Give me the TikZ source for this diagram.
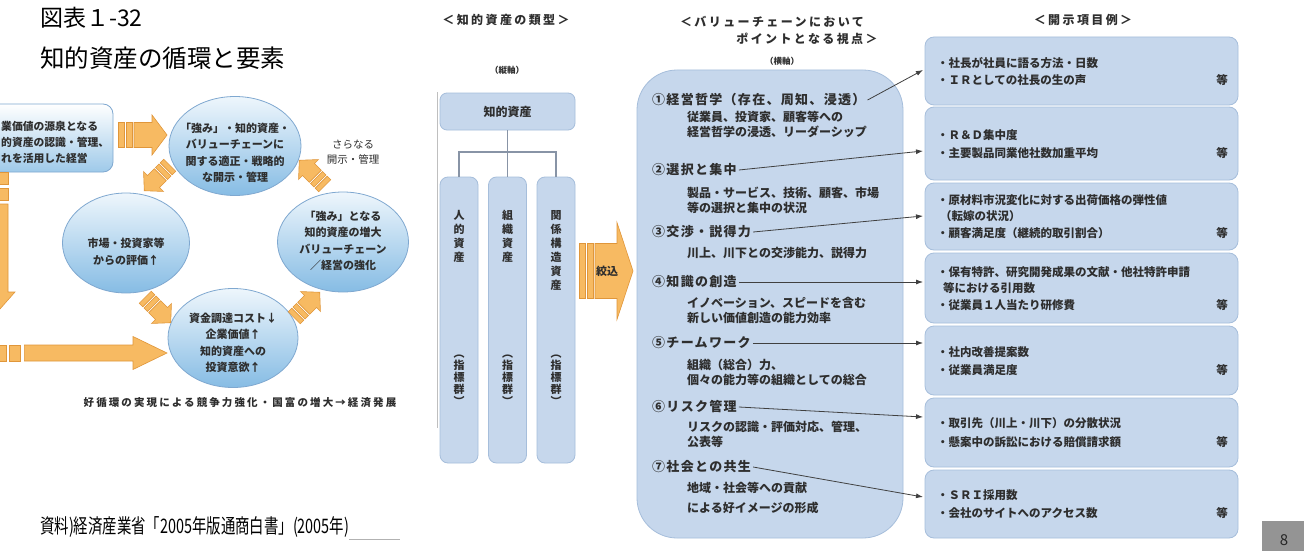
\documentclass[tikz,border=0pt]{standalone}
\usepackage{fontspec}
\setmainfont{Noto Sans CJK JP}
\newfontfamily\hdfont{Noto Sans CJK JP}[LetterSpace=20]
\newfontfamily\spfont{Noto Sans CJK JP}[LetterSpace=20]
\newfontfamily\hgfont{Noto Sans CJK JP}[LetterSpace=10]
\usetikzlibrary{shapes.geometric,arrows.meta,calc}

\definecolor{orfill}{HTML}{F7BA62}
\definecolor{orline}{HTML}{E0963A}
\definecolor{boxblue}{HTML}{C6D7EC}
\definecolor{boxline}{HTML}{A6BEDB}
\definecolor{elltop}{HTML}{EEF6FC}
\definecolor{ellbot}{HTML}{86BCE4}
\definecolor{ellline}{HTML}{7FA8D0}
\definecolor{txt}{HTML}{2E2E2E}
\definecolor{connc}{HTML}{8894A6}

\newcommand{\orarr}[8]{%
\begin{scope}[shift={(#1,#2)},rotate=#3]
\pgfmathsetmacro{\qqa}{-#4/2}
\pgfmathsetmacro{\qqb}{-#4/2+#8}
\pgfmathsetmacro{\qqc}{-#4/2+#8+#8/3}
\pgfmathsetmacro{\qqd}{-#4/2+2*#8+#8/3}
\pgfmathsetmacro{\qqe}{-#4/2+2*#8+2*#8/3}
\pgfmathsetmacro{\qqf}{#4/2-#7}
\pgfmathsetmacro{\qqg}{#4/2}
\filldraw[orarrow] (\qqa,-#5) rectangle (\qqb,#5);
\filldraw[orarrow] (\qqc,-#5) rectangle (\qqd,#5);
\filldraw[orarrow] (\qqe,-#5) -- (\qqf,-#5) -- (\qqf,-#6) -- (\qqg,0) -- (\qqf,#6) -- (\qqf,#5) -- (\qqe,#5) -- cycle;
\end{scope}}

\begin{document}
\begin{tikzpicture}[x=1pt,y=-1pt,
  ell/.style={ellipse, draw=ellline, line width=0.8pt, top color=elltop, bottom color=ellbot, inner sep=0pt},
  etext/.style={align=center, text=txt, font=\bfseries\fontsize{11}{16.5}\selectfont, inner sep=0pt},
  orarrow/.style={fill=orfill, draw=orline, line width=0.6pt, line join=miter},
  tlbox/.style={draw=ellline, line width=0.8pt, top color=white, bottom color=ellbot!80, rounded corners=10pt, inner sep=0pt},
  mbox/.style={draw=boxline, fill=boxblue, line width=0.8pt, inner sep=0pt},
  hd/.style={text=txt, font=\hdfont\bfseries\fontsize{12}{14}\selectfont, inner sep=0pt},
  smalltx/.style={text=txt, font=\bfseries\fontsize{8.5}{10}\selectfont, inner sep=0pt},
  conn/.style={draw=connc, line width=1.6pt},
  vtext/.style={align=center, text=txt, font=\bfseries\fontsize{11}{14}\selectfont, inner sep=0pt, anchor=north},
  vtextb/.style={align=center, text=txt, font=\bfseries\fontsize{11}{12}\selectfont, inner sep=0pt, anchor=north},
  hdg/.style={anchor=west, text=txt, font=\hgfont\bfseries\fontsize{13}{15}\selectfont, inner sep=2pt},
  subtx/.style={anchor=west, align=left, text=txt, font=\bfseries\fontsize{12}{15}\selectfont, inner sep=0pt},
  rbox/.style={draw=boxline, fill=boxblue, line width=0.8pt, rounded corners=9pt, minimum width=313pt, inner sep=0pt},
  rtext/.style={anchor=west, align=left, text=txt, font=\bfseries\fontsize{11.5}{17.5}\selectfont, inner sep=0pt},
  etc/.style={text=txt, font=\bfseries\fontsize{11.5}{13}\selectfont, inner sep=0pt},
  ptr/.style={-{Latex[length=7pt,width=5pt]}, draw=black!75, line width=0.8pt}
]
\useasboundingbox (0,0) rectangle (1304,551);
\clip (0,0) rectangle (1304,551);
\fill[white] (0,0) rectangle (1304,551);

% titles
\node[anchor=west, font=\fontsize{23}{26}\selectfont, inner sep=0pt] (ttl1) at (40,18) {図表１-32};
\node[anchor=west, font=\fontsize{24.5}{28}\selectfont, inner sep=0pt] (ttl2) at (40,58) {知的資産の循環と要素};

% left panel border
\draw[black!25, line width=1pt] (437,92) -- (437,428);

% left cycle
\node[tlbox, minimum width=150pt, minimum height=68pt] (src) at (38,138) {};
\node[etext, anchor=west, align=left, font=\bfseries\fontsize{10.8}{16}\selectfont] (srct) at (1,142) {業価値の源泉となる\\的資産の認識・管理、\\れを活用した経営};

\orarr{142.5}{135}{0}{49}{12.5}{20}{15}{6}
\orarr{-8}{245}{-90}{146}{16}{23}{26}{12}
\orarr{81}{353}{0}{172}{8}{16.5}{34}{11}

\node[ell, minimum width=132pt, minimum height=99pt] (etop) at (235,146) {};
\node[etext] (etopt) at (235,153) {「強み」・知的資産・\\バリューチェーンに\\関する適正・戦略的\\な開示・管理};
\node[ell, minimum width=131pt, minimum height=100pt] (eright) at (343,242) {};
\node[etext] (erightt) at (343,241) {「強み」となる\\知的資産の増大\\バリューチェーン\\／経営の強化};
\node[ell, minimum width=127pt, minimum height=100pt] (eleft) at (126,243) {};
\node[etext] (eleftt) at (126,252) {市場・投資家等\\からの評価↑};
\node[ell, minimum width=130pt, minimum height=99pt] (ebot) at (233,338) {};
\node[etext] (ebott) at (233,343) {資金調達コスト↓\\企業価値↑\\知的資産への\\投資意欲↑};

\orarr{157}{178}{225}{36}{8.5}{14}{13}{5}
\orarr{312}{173}{135}{36}{8.5}{14}{13}{5}
\orarr{307}{305}{45}{36}{8.5}{14}{13}{5}
\orarr{158}{310}{-45}{36}{8.5}{14}{13}{5}

\node[align=center, text=txt, font=\fontsize{10.5}{15}\selectfont, inner sep=0pt] (more) at (353,152) {さらなる\\開示・管理};
\node[text=txt, font=\spfont\bfseries\fontsize{10.5}{12}\selectfont, inner sep=0pt] (cap) at (240,403) {好循環の実現による競争力強化・国富の増大→経済発展};

% middle: types of intellectual assets
\node[hd] (hdm) at (506,20) {＜知的資産の類型＞};
\node[smalltx] (vax) at (507,70) {（縦軸）};
\node[mbox, minimum width=135pt, minimum height=37pt, rounded corners=7pt, text=txt, font=\bfseries\fontsize{12}{14}\selectfont] (tb) at (507.5,111.5) {知的資産};
\node[mbox, minimum width=38pt, minimum height=286pt, rounded corners=8pt] (c1) at (459,320) {};
\node[mbox, minimum width=38pt, minimum height=286pt, rounded corners=8pt] (c2) at (507.5,320) {};
\node[mbox, minimum width=38pt, minimum height=286pt, rounded corners=8pt] (c3) at (556,320) {};
\coordinate (j) at (507.5,152);
\draw[conn] (tb.south) -- (j);
\draw[conn] (j) -| (c1.north);
\draw[conn] (j) -- (c2.north);
\draw[conn] (j) -| (c3.north);
\node[vtext] (c1a) at (459,210) {人\\的\\資\\産};
\node[vtext] (c2a) at (507.5,210) {組\\織\\資\\産};
\node[vtext] (c3a) at (556,210) {関\\係\\構\\造\\資\\産};
\node[vtextb] (c1b) at (459,355) {︵\\指\\標\\群\\︶};
\node[vtextb] (c2b) at (507.5,355) {︵\\指\\標\\群\\︶};
\node[vtextb] (c3b) at (556,355) {︵\\指\\標\\群\\︶};

\orarr{606}{271}{0}{54}{27.5}{48.5}{16}{6}
\node[text=txt, font=\bfseries\fontsize{11}{13}\selectfont, inner sep=0pt] (sh) at (607,271) {絞込};

% viewpoints
\node[hd] (hdv1) at (772,22) {＜バリューチェーンにおいて};
\node[hd] (hdv2) at (807,39) {ポイントとなる視点＞};
\node[smalltx] (hax) at (782,61) {（横軸）};
\node[mbox, minimum width=266pt, minimum height=468pt, rounded corners=40pt] (vp) at (770,304) {};

\node[hdg] (h1) at (650,100) {①経営哲学（存在、周知、浸透）};
\node[subtx] (s1) at (687,124.5) {従業員、投資家、顧客等への\\経営哲学の浸透、リーダーシップ};
\node[hdg] (h2) at (650,170) {②選択と集中};
\node[subtx] (s2) at (687,200) {製品・サービス、技術、顧客、市場\\等の選択と集中の状況};
\node[hdg] (h3) at (650,232) {③交渉・説得力};
\node[subtx] (s3) at (687,253) {川上、川下との交渉能力、説得力};
\node[hdg] (h4) at (650,282) {④知識の創造};
\node[subtx] (s4) at (687,310.5) {イノベーション、スピードを含む\\新しい価値創造の能力効率};
\node[hdg] (h5) at (650,343) {⑤チームワーク};
\node[subtx] (s5) at (687,372) {組織（総合）力、\\個々の能力等の組織としての総合};
\node[hdg] (h6) at (650,407) {⑥リスク管理};
\node[subtx] (s6) at (687,434) {リスクの認識・評価対応、管理、\\公表等};
\node[hdg] (h7) at (650,467) {⑦社会との共生};
\node[subtx, font=\bfseries\fontsize{12}{20}\selectfont] (s7) at (687,498) {地域・社会等への貢献\\による好イメージの形成};

% disclosure items
\node[hd] (hdr) at (1083,20) {＜開示項目例＞};
\node[rbox, minimum height=68pt] (r1) at (1081.5,71) {};
\node[rbox, minimum height=73pt] (r2) at (1081.5,143.5) {};
\node[rbox, minimum height=67pt] (r3) at (1081.5,216.5) {};
\node[rbox, minimum height=70pt] (r4) at (1081.5,288) {};
\node[rbox, minimum height=69pt] (r5) at (1081.5,360.5) {};
\node[rbox, minimum height=69pt] (r6) at (1081.5,432.5) {};
\node[rbox, minimum height=68pt] (r7) at (1081.5,504) {};

\node[rtext] (r1t) at (937,71.5) {・社長が社員に語る方法・日数\\・ＩＲとしての社長の生の声};
\node[rtext] (r2t) at (937,144) {・Ｒ＆Ｄ集中度\\・主要製品同業他社数加重平均};
\node[rtext, font=\bfseries\fontsize{11.5}{16.5}\selectfont] (r3t) at (937,216.5) {・原材料市況変化に対する出荷価格の弾性値\\\hspace*{3pt}（転嫁の状況）\\・顧客満足度（継続的取引割合）};
\node[rtext, font=\bfseries\fontsize{11.5}{16.5}\selectfont] (r4t) at (937,288.5) {・保有特許、研究開発成果の文献・他社特許申請\\\hspace*{6pt}等における引用数\\・従業員１人当たり研修費};
\node[rtext] (r5t) at (937,361) {・社内改善提案数\\・従業員満足度};
\node[rtext, font=\bfseries\fontsize{11.5}{19}\selectfont] (r6t) at (937,432.5) {・取引先（川上・川下）の分散状況\\・懸案中の訴訟における賠償請求額};
\node[rtext] (r7t) at (937,504) {・ＳＲＩ採用数\\・会社のサイトへのアクセス数};

\node[etc] (e1) at (1222,80) {等};
\node[etc] (e2) at (1222,153) {等};
\node[etc] (e3) at (1222,233) {等};
\node[etc] (e4) at (1222,305) {等};
\node[etc] (e5) at (1222,370) {等};
\node[etc] (e6) at (1222,442) {等};
\node[etc] (e7) at (1222,513) {等};

\coordinate (t1) at (923,70);
\coordinate (t2) at (923,151);
\coordinate (t3) at (923,216);
\coordinate (t4) at (923,282);
\coordinate (t5) at (923,343);
\coordinate (t6) at (923,417);
\coordinate (t7) at (923,497);
\draw[ptr] (h1.east) -- (t1);
\draw[ptr] (h2.east) -- (t2);
\draw[ptr] (h3.east) -- (t3);
\draw[ptr] (h4.east) -- (t4);
\draw[ptr] (h5.east) -- (t5);
\draw[ptr] (h6.east) -- (t6);
\draw[ptr] (h7.east) -- (t7);

% source and page
\node[anchor=west, inner sep=0pt, font=\fontsize{20}{22}\selectfont] (srcl) at (40,527) {\scalebox{0.72}[1]{資料)経済産業省「2005年版通商白書」(2005年)}};
\coordinate (srce) at (400,539);
\draw[black!30, line width=0.5pt] (srcl.east |- srce) -- (srce);
\node[fill=black!42, minimum width=42pt, minimum height=31pt, inner sep=0pt, anchor=north west] (pg) at (1262,521) {};
\node[text=black!85, font=\fontsize{15}{17}\selectfont, inner sep=0pt] (pgn) at (1284,540) {8};
\end{tikzpicture}
\end{document}
